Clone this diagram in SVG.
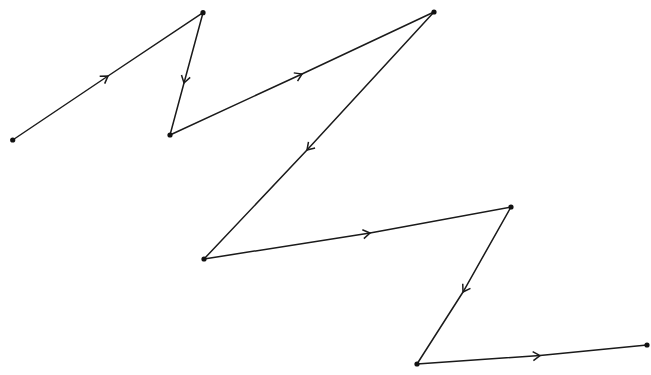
<svg xmlns="http://www.w3.org/2000/svg" width="651" height="375" viewBox="0 0 651 375">
<style>
.edge{fill:none;stroke:#1a1a1a;stroke-width:1.5;marker-mid:url(#chev)}
.pt{fill:#111}
</style>
<defs>
<marker id="chev" markerUnits="userSpaceOnUse" markerWidth="20" markerHeight="20" refX="0" refY="0" viewBox="-10 -10 20 20" orient="auto" overflow="visible">
<path d="M -7 -4.5 L 0 0 L -7 4.5" fill="none" stroke="#1a1a1a" stroke-width="1.5"/>
</marker>
</defs>
<rect width="651" height="375" fill="#ffffff"/>
<g id="connectors">
<path class="edge" d="M 12.7 140 L 108 76 L 203 12.7"/>
<path class="edge" d="M 203 12.7 L 184 83 L 170 135"/>
<path class="edge" d="M 170 135 L 302 74 L 434 12"/>
<path class="edge" d="M 434 12 L 307 150 L 204 259"/>
<path class="edge" d="M 204 259 L 370 233 L 511 207"/>
<path class="edge" d="M 511 207 L 463 292 L 417 364"/>
<path class="edge" d="M 417 364 L 540 355.5 L 647 345"/>
</g>
<g id="p0"><circle class="pt" cx="12.7" cy="140" r="2.6"/></g>
<g id="p1"><circle class="pt" cx="203" cy="12.7" r="2.6"/></g>
<g id="p2"><circle class="pt" cx="170" cy="135" r="2.6"/></g>
<g id="p3"><circle class="pt" cx="434" cy="12" r="2.6"/></g>
<g id="p4"><circle class="pt" cx="204" cy="259" r="2.6"/></g>
<g id="p5"><circle class="pt" cx="511" cy="207" r="2.6"/></g>
<g id="p6"><circle class="pt" cx="417" cy="364" r="2.6"/></g>
<g id="p7"><circle class="pt" cx="647" cy="345" r="2.6"/></g>
</svg>
